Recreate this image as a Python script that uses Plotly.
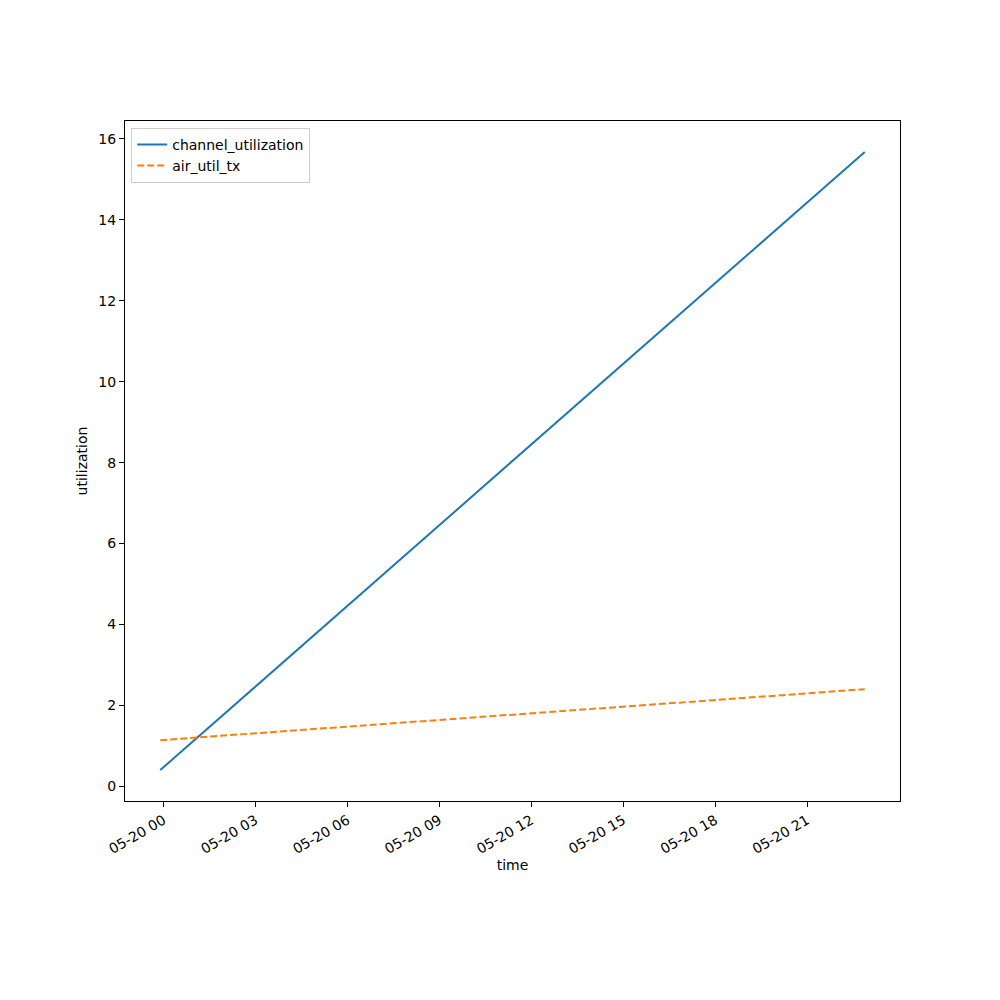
import pandas as pd
import plotly.graph_objects as go

times = ["2024-05-19 23:53:30", "2024-05-20 22:53:00"]
channel_utilization = [0.40, 15.68]
air_util_tx = [1.14, 2.40]
tick_labels = ["05-20 00", "05-20 03", "05-20 06", "05-20 09", "05-20 12", "05-20 15", "05-20 18", "05-20 21"]
tick_times = ["2024-05-20 00:00", "2024-05-20 03:00", "2024-05-20 06:00", "2024-05-20 09:00",
              "2024-05-20 12:00", "2024-05-20 15:00", "2024-05-20 18:00", "2024-05-20 21:00"]

t = pd.to_datetime(times)
span = t.max() - t.min()
xr = [t.min() - 0.05 * span, t.max() + 0.05 * span]
allv = channel_utilization + air_util_tx
vspan = max(allv) - min(allv)
yr = [min(allv) - 0.05 * vspan, max(allv) + 0.05 * vspan]

font = dict(family="DejaVu Sans", size=14, color="black")

fig = go.Figure()
fig.add_trace(go.Scatter(x=t, y=channel_utilization, mode="lines", name="channel_utilization",
                         line=dict(color="#1f77b4", width=2)))
fig.add_trace(go.Scatter(x=t, y=air_util_tx, mode="lines", name="air_util_tx",
                         line=dict(color="#ff7f0e", width=2, dash="7px,3px")))

fig.update_layout(
    width=1000, height=1000,
    margin=dict(l=117, r=108, t=113, b=207),
    paper_bgcolor="white", plot_bgcolor="white",
    font=font,
    showlegend=True,
    legend=dict(x=0.008, y=0.99, xanchor="left", yanchor="top",
                bgcolor="rgba(255,255,255,0.8)", bordercolor="#cccccc", borderwidth=1,
                font=font, tracegroupgap=0),
)
fig.update_xaxes(
    range=xr, showgrid=False, zeroline=False,
    showline=True, linecolor="black", linewidth=1, mirror=True,
    ticks="outside", ticklen=5, tickcolor="black",
    tickvals=pd.to_datetime(tick_times), ticktext=tick_labels, tickangle=-30,
    title=dict(text="time", font=font, standoff=3),
)
fig.update_yaxes(
    range=yr, showgrid=False, zeroline=False,
    showline=True, linecolor="black", linewidth=1, mirror=True,
    ticks="outside", ticklen=5, tickcolor="black",
    tickvals=[0, 2, 4, 6, 8, 10, 12, 14, 16],
    title=dict(text="utilization", font=font, standoff=7),
)

fig.write_html("out.html")
